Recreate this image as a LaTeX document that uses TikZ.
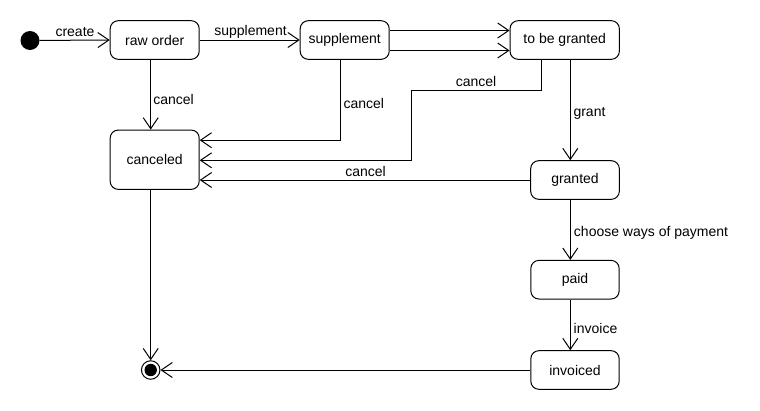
\documentclass[tikz,border=0pt]{standalone}
\usepackage{fontspec}
\setmainfont{Liberation Sans}
\usetikzlibrary{arrows.meta,calc}
\begin{document}
\begin{tikzpicture}[x=1pt,y=-1pt,
  every node/.style={font=\fontsize{14}{16}\selectfont},
  state/.style={draw,line width=1pt,rounded corners=8pt,inner sep=0pt,minimum height=38.6pt,minimum width=89pt},
  arr/.style={line width=1pt,-{Straight Barb[length=11pt,width=15pt,line width=1pt]}},
  lbl/.style={inner sep=0pt,anchor=center}]
\useasboundingbox (0,0) rectangle (760,410);
\node[circle,fill=black,inner sep=0pt,minimum size=19pt] (init) at (30,40.5) {};
\node[state] (raw) at (154.7,40) {raw order};
\node[state] (supp) at (344.7,40) {supplement};
\node[state,minimum width=109.3pt] (tbg) at (564.7,40) {to be granted};
\node[state,minimum height=59.3pt] (canc) at (154.7,159.7) {canceled};
\node[state,minimum width=88.6pt] (grant) at (575,180) {granted};
\node[state,minimum width=88.3pt] (paid) at (575,279.7) {paid};
\node[state,minimum width=88.3pt] (inv) at (575,370) {invoiced};
\node[circle,draw,line width=1pt,fill=white,inner sep=0pt,minimum size=18.5pt] (final) at (150.7,370) {};
\fill (final.center) circle (6.2);
\coordinate (c1) at (150.7,0);
\coordinate (c2) at (340.5,0);
\coordinate (c3) at (541,90);
\coordinate (c4) at (411,160.3);
\coordinate (c5) at (570.3,0);
\draw[arr] (init) -- (raw.west) node[lbl] at (75,32) {create};
\draw[arr] (raw.east) -- (supp.west) node[lbl] at (250.5,32) {supplement};
\draw[arr] ($(supp.east)+(0,-9.5)$) -- ($(tbg.west)+(0,-9.5)$);
\draw[arr] ($(supp.east)+(0,10.5)$) -- ($(tbg.west)+(0,10.5)$);
\draw[arr] (raw.south -| c1) -- (canc.north -| c1) node[lbl] at (173.5,99) {cancel};
\draw[arr] (supp.south -| c2) |- ($(canc.east)+(0,-19.5)$) node[lbl] at (363.8,103.3) {cancel};
\draw[arr] (tbg.south -| c3) -- (c3) -| (c4) -- (c4 -| canc.east) node[lbl] at (476,81) {cancel};
\draw[arr] (grant.west) -- (grant.west -| canc.east) node[lbl] at (365.5,171.7) {cancel};
\draw[arr] (tbg.south -| c5) -- (grant.north -| c5) node[lbl] at (589.5,113) {grant};
\draw[arr] (grant.south -| c5) -- (paid.north -| c5) node[lbl] at (651,233.3) {choose ways of payment};
\draw[arr] (paid.south -| c5) -- (inv.north -| c5) node[lbl] at (595.5,328.3) {invoice};
\draw[arr] (canc.south -| c1) -- (final.north);
\draw[arr] (inv.west) -- (final.east);
\end{tikzpicture}
\end{document}
